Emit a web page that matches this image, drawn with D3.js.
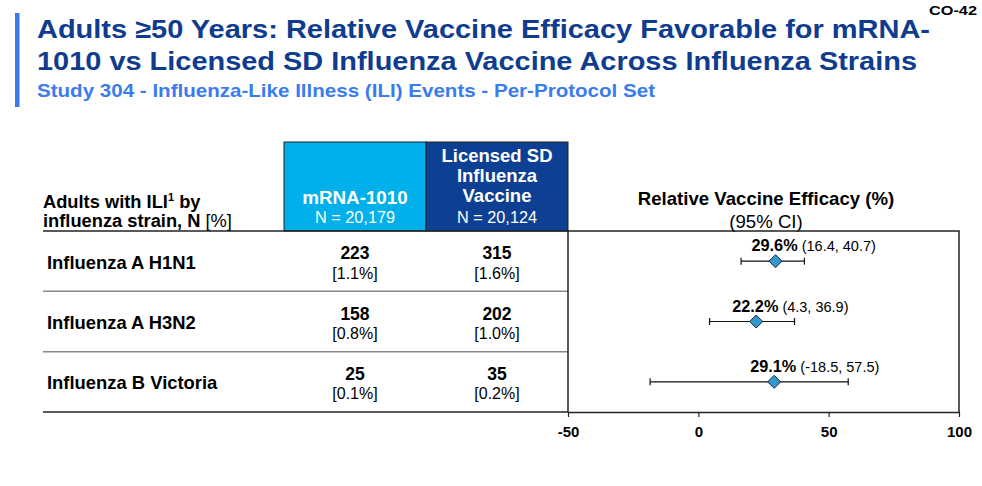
<!DOCTYPE html>
<html>
<head>
<meta charset="utf-8">
<script src="https://cdn.jsdelivr.net/npm/d3@7"></script>
<style>
  body { margin: 0; background: #fff; }
  svg { display: block; font-family: "Liberation Sans", Arial, sans-serif; }
</style>
</head>
<body>
<div id="chart"></div>
<script>
// data
const strains = ["Influenza A H1N1", "Influenza A H3N2", "Influenza B Victoria"];
const mrnaCases = [223, 158, 25];
const mrnaPct = [1.1, 0.8, 0.1];
const sdCases = [315, 202, 35];
const sdPct = [1.6, 1.0, 0.2];
const rve = [29.6, 22.2, 29.1];
const ciLow = [16.4, 4.3, -18.5];
const ciHigh = [40.7, 36.9, 57.5];
const xTicks = [-50, 0, 50, 100];

const width = 982, height = 486;
const navy = "#0f3c8f", bright = "#3a7cf0";

const svg = d3.select("#chart").append("svg")
  .attr("width", width)
  .attr("height", height);

// title block
svg.append("rect").attr("x", 15).attr("y", 13).attr("width", 4.5).attr("height", 94).attr("fill", bright);

function fitText(sel, w) {
  sel.attr("textLength", w).attr("lengthAdjust", "spacingAndGlyphs");
}
const narrow = '"Liberation Sans Narrow", "Arial Narrow", "Liberation Sans", Arial, sans-serif';

svg.append("text").attr("x", 37).attr("y", 38)
  .style("font-family", narrow).style("font-weight", "bold").style("font-size", "26.5px").attr("fill", navy)
  .text("Adults \u226550 Years: Relative Vaccine Efficacy Favorable for mRNA-")
  .call(fitText, 893);
svg.append("text").attr("x", 37).attr("y", 69.5)
  .style("font-family", narrow).style("font-weight", "bold").style("font-size", "26.5px").attr("fill", navy)
  .text("1010 vs Licensed SD Influenza Vaccine Across Influenza Strains")
  .call(fitText, 880);
svg.append("text").attr("x", 37).attr("y", 97)
  .style("font-family", narrow).style("font-weight", "bold").style("font-size", "19px").attr("fill", bright)
  .text("Study 304 - Influenza-Like Illness (ILI) Events - Per-Protocol Set")
  .call(fitText, 618);
svg.append("text").attr("x", 929).attr("y", 15)
  .style("font-family", narrow).style("font-weight", "bold").style("font-size", "13px").attr("fill", "#000")
  .text("CO-42")
  .call(fitText, 48);

// table geometry
const tableLeft = 43, col1 = 284, col2 = 426, col3 = 568, plotRight = 959;
const headTop = 142, headBottom = 231, plotBottom = 412;

const x = d3.scaleLinear().domain([-50, 100]).range([col3, plotRight]);
const y = d3.scaleBand().domain(strains).range([headBottom, plotBottom]);

// header cells
svg.append("rect").attr("x", col1).attr("y", headTop).attr("width", col2 - col1).attr("height", headBottom - headTop)
  .attr("fill", "#00b0ea").attr("stroke", "#222").attr("stroke-width", 1);
svg.append("rect").attr("x", col2).attr("y", headTop).attr("width", col3 - col2).attr("height", headBottom - headTop)
  .attr("fill", "#0d3f93").attr("stroke", "#222").attr("stroke-width", 1);

const c1 = (col1 + col2) / 2, c2 = (col2 + col3) / 2;
svg.append("text").attr("x", c1).attr("y", 204).attr("text-anchor", "middle")
  .attr("fill", "#fff").style("font-weight", "bold").style("font-size", "18.8px").text("mRNA-1010");
svg.append("text").attr("x", c1).attr("y", 222.5).attr("text-anchor", "middle")
  .attr("fill", "#fff").style("font-size", "16.3px").text("N = 20,179");
["Licensed SD", "Influenza", "Vaccine"].forEach((t, i) => {
  svg.append("text").attr("x", c2).attr("y", 162 + i * 20).attr("text-anchor", "middle")
    .attr("fill", "#fff").style("font-weight", "bold").style("font-size", "18.5px").text(t);
});
svg.append("text").attr("x", c2).attr("y", 222.5).attr("text-anchor", "middle")
  .attr("fill", "#fff").style("font-size", "16.3px").text("N = 20,124");

const lh = svg.append("text").attr("x", tableLeft).attr("y", 207.5)
  .style("font-weight", "bold").style("font-size", "18.3px").attr("fill", "#000");
lh.append("tspan").text("Adults with ILI");
lh.append("tspan").attr("dy", -7).style("font-size", "11px").text("1");
lh.append("tspan").attr("dy", 7).text(" by");
const lh2 = svg.append("text").attr("x", tableLeft).attr("y", 226.5)
  .style("font-weight", "bold").style("font-size", "18.3px").attr("fill", "#000");
lh2.append("tspan").text("influenza strain, N ");
lh2.append("tspan").style("font-weight", "normal").text("[%]");

const rc = 766;
svg.append("text").attr("x", rc).attr("y", 205).attr("text-anchor", "middle")
  .style("font-weight", "bold").style("font-size", "18.6px").text("Relative Vaccine Efficacy (%)");
svg.append("text").attr("x", rc).attr("y", 228).attr("text-anchor", "middle")
  .style("font-size", "18.6px").text("(95% CI)");

// table lines
svg.append("line").attr("x1", tableLeft).attr("x2", col3).attr("y1", headBottom).attr("y2", headBottom)
  .attr("stroke", "#222").attr("stroke-width", 1.5);
strains.slice(1).forEach(s => {
  svg.append("line").attr("x1", tableLeft).attr("x2", col3).attr("y1", y(s)).attr("y2", y(s))
    .attr("stroke", "#888").attr("stroke-width", 1.5);
});
svg.append("line").attr("x1", tableLeft).attr("x2", col3).attr("y1", plotBottom).attr("y2", plotBottom)
  .attr("stroke", "#222").attr("stroke-width", 1.5);

// rows
const rows = svg.append("g").selectAll("g").data(strains).join("g")
  .attr("transform", d => `translate(0,${y(d) + y.bandwidth() / 2})`);

rows.append("text").attr("x", 47).attr("y", 7.5)
  .style("font-weight", "bold").style("font-size", "18.4px").text(d => d);

rows.append("text").attr("x", c1).attr("y", -2).attr("text-anchor", "middle")
  .style("font-weight", "bold").style("font-size", "17.5px").text((d, i) => mrnaCases[i]);
rows.append("text").attr("x", c1).attr("y", 17.5).attr("text-anchor", "middle")
  .style("font-size", "16px").text((d, i) => `[${mrnaPct[i].toFixed(1)}%]`);
rows.append("text").attr("x", c2).attr("y", -2).attr("text-anchor", "middle")
  .style("font-weight", "bold").style("font-size", "17.5px").text((d, i) => sdCases[i]);
rows.append("text").attr("x", c2).attr("y", 17.5).attr("text-anchor", "middle")
  .style("font-size", "16px").text((d, i) => `[${sdPct[i].toFixed(1)}%]`);

// plot frame
svg.append("path")
  .attr("d", `M${col3},${plotBottom}V${headBottom}H${plotRight}V${plotBottom}`)
  .attr("fill", "none").attr("stroke", "#222").attr("stroke-width", 1.5);

const axis = svg.append("g").attr("transform", `translate(0,${plotBottom})`)
  .call(d3.axisBottom(x).tickValues(xTicks).tickFormat(d => String(d))
    .tickSize(5).tickPadding(9).tickSizeOuter(0));
axis.select(".domain").attr("stroke", "#222").attr("stroke-width", 1.5);
axis.selectAll(".tick line").attr("stroke", "#222").attr("stroke-width", 1.2);
axis.selectAll(".tick text").attr("fill", "#000")
  .style("font-family", '"Liberation Sans", Arial, sans-serif')
  .style("font-weight", "bold").style("font-size", "15px");

// forest marks
rows.append("line").attr("x1", (d, i) => x(ciLow[i])).attr("x2", (d, i) => x(ciHigh[i]))
  .attr("y1", 0).attr("y2", 0).attr("stroke", "#111").attr("stroke-width", 1.2);
rows.append("line").attr("x1", (d, i) => x(ciLow[i])).attr("x2", (d, i) => x(ciLow[i]))
  .attr("y1", -3.5).attr("y2", 3.5).attr("stroke", "#111").attr("stroke-width", 1.2);
rows.append("line").attr("x1", (d, i) => x(ciHigh[i])).attr("x2", (d, i) => x(ciHigh[i]))
  .attr("y1", -3.5).attr("y2", 3.5).attr("stroke", "#111").attr("stroke-width", 1.2);
rows.append("path")
  .attr("d", (d, i) => { const cx = x(rve[i]); return `M${cx - 6.5},0L${cx},-6.5L${cx + 6.5},0L${cx},6.5Z`; })
  .attr("fill", "#3399cc").attr("stroke", "#123").attr("stroke-width", 1);

const lbl = rows.append("text").attr("x", (d, i) => x(rve[i]) - 24).attr("y", -10);
lbl.append("tspan").style("font-weight", "bold").style("font-size", "16.3px").text((d, i) => `${rve[i].toFixed(1)}%`);
lbl.append("tspan").style("font-size", "14.5px").text((d, i) => ` (${ciLow[i].toFixed(1)}, ${ciHigh[i].toFixed(1)})`);
</script>
</body>
</html>
